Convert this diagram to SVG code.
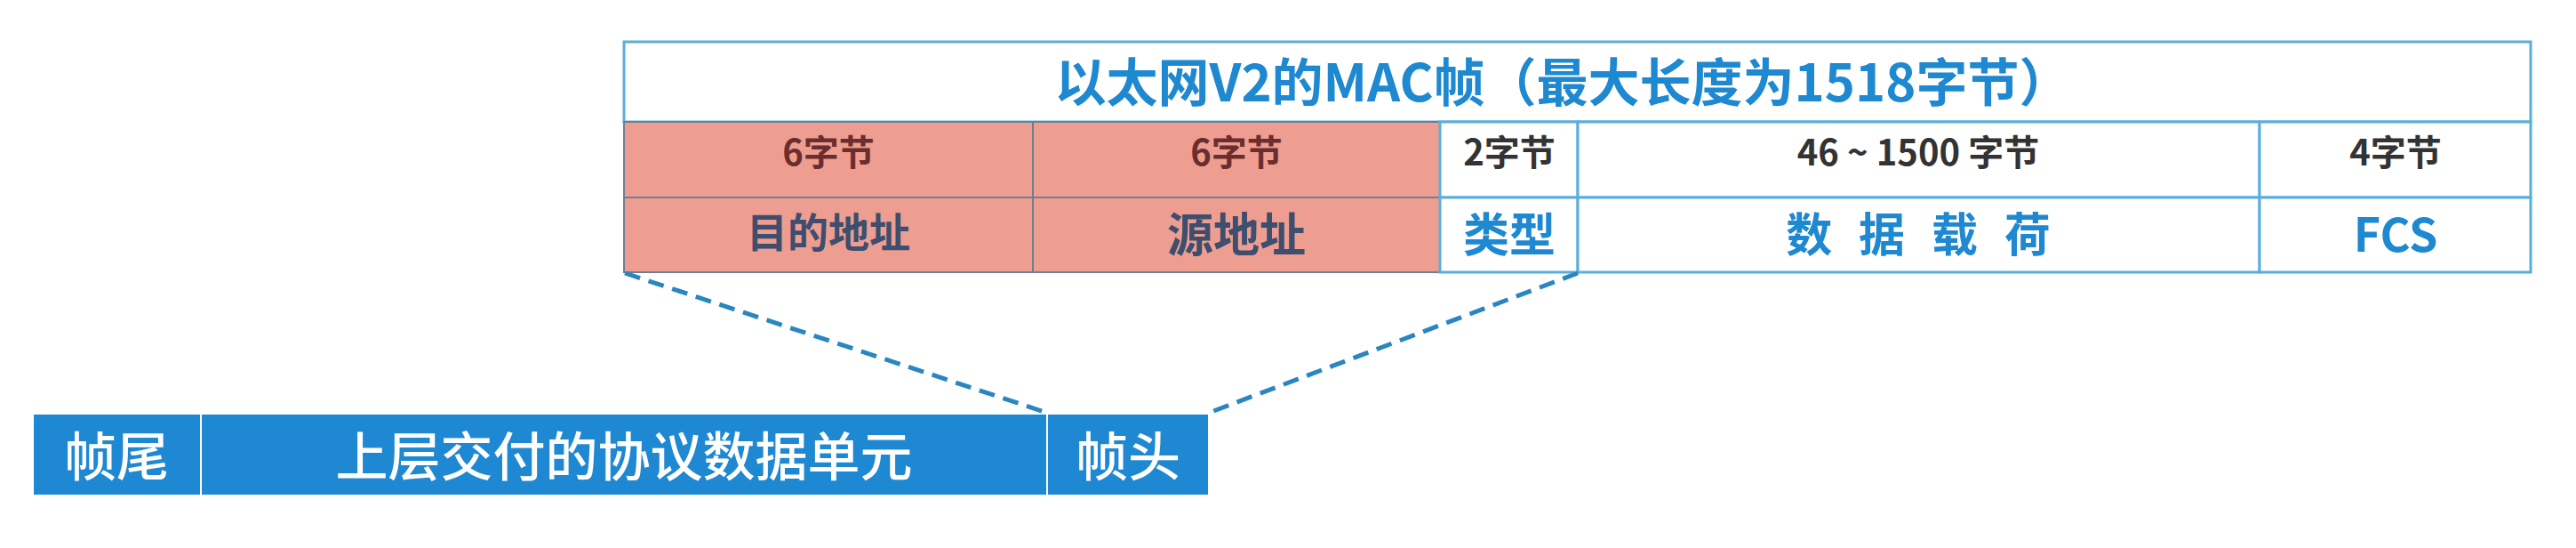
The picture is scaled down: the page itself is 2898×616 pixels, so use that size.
<svg xmlns="http://www.w3.org/2000/svg" width="2898" height="616" viewBox="0 0 2898 616">
<style>
text{font-family:"Noto Sans CJK SC","Noto Sans",sans-serif;font-weight:bold;text-anchor:middle}
.title{font-size:58px;fill:#1E88D0}
.sz{font-size:40px;fill:#333333}
.szp{font-size:40px;fill:#6B2E2E}
.nm{font-size:52px;fill:#1E88D0}
.nmp{fill:#3D4E6E}
.bar{font-size:59px;fill:#FFFFFF;font-weight:500}
.cell{fill:#FFFFFF;stroke:#5AAEDC;stroke-width:3}
.pink{fill:#EE9E90;stroke:#6F7F92;stroke-width:2}
.bcell{fill:#1E88D2;stroke:#FFFFFF;stroke-width:2}
.dash{stroke:#2A86C0;stroke-width:5;stroke-dasharray:18 10;fill:none}
</style>
<rect width="2898" height="616" fill="#FFFFFF"/>
<g id="title">
<rect class="cell" x="702" y="47" width="2145" height="90"/>
<text class="title" x="1758" y="114">以太网V2的MAC帧（最大长度为1518字节）</text>
</g>
<g id="dest">
<rect class="pink" x="702" y="137" width="460" height="85"/>
<rect class="pink" x="702" y="222" width="460" height="84"/>
<text class="szp" x="932" y="186">6字节</text>
<text class="nm nmp" x="932" y="278" style="font-size:46px">目的地址</text>
</g>
<g id="src">
<rect class="pink" x="1162" y="137" width="458" height="85"/>
<rect class="pink" x="1162" y="222" width="458" height="84"/>
<text class="szp" x="1391" y="186">6字节</text>
<text class="nm nmp" x="1391" y="283">源地址</text>
</g>
<g id="type">
<rect class="cell" x="1620" y="137" width="155" height="85"/>
<rect class="cell" x="1620" y="222" width="155" height="84"/>
<text class="sz" x="1698" y="186">2字节</text>
<text class="nm" x="1698" y="283">类型</text>
</g>
<g id="payload">
<rect class="cell" x="1775" y="137" width="767" height="85"/>
<rect class="cell" x="1775" y="222" width="767" height="84"/>
<text class="sz" x="2158" y="186">46 ~ 1500 字节</text>
<text class="nm" x="2158" y="283" style="word-spacing:18px">数 据 载 荷</text>
</g>
<g id="fcs">
<rect class="cell" x="2542" y="137" width="305" height="85"/>
<rect class="cell" x="2542" y="222" width="305" height="84"/>
<text class="sz" x="2695" y="186">4字节</text>
<text class="nm" x="2695" y="283">FCS</text>
</g>
<g id="trailer">
<rect class="bcell" x="37" y="465" width="189" height="92"/>
<text class="bar" x="131" y="535">帧尾</text>
</g>
<g id="pdu">
<rect class="bcell" x="226" y="465" width="952" height="92"/>
<text class="bar" x="702" y="535">上层交付的协议数据单元</text>
</g>
<g id="header">
<rect class="bcell" x="1178" y="465" width="182" height="92"/>
<text class="bar" x="1269" y="535">帧头</text>
</g>
<g id="connectors">
<line class="dash" x1="703" y1="307" x2="1178" y2="464"/>
<line class="dash" x1="1775" y1="307" x2="1360" y2="464"/>
</g>
</svg>
